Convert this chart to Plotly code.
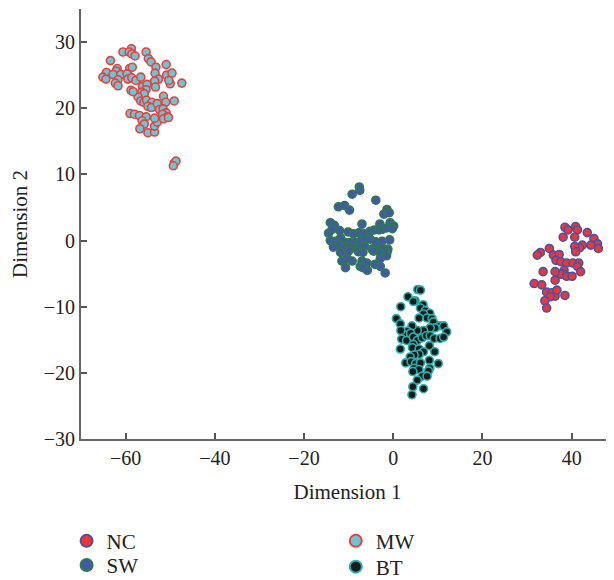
import plotly.graph_objects as go

# ---- data ----
mw_x = [-58.7, -60.6, -59.2, -58.6, -57.9, -55.4, -63.4, -54.9, -54.3, -53.2, -50.9, -59.1, -58.5,
        -61.9, -62.1, -64.3, -65.1, -64.4, -62.8, -61.1, -59.7, -61.7, -62.3, -61.7, -59.5, -58.6,
        -57.7, -56.6, -53.4, -52.6, -53.5, -53.3, -50.8, -49.6, -50.0, -50.3, -47.4, -56.2, -55.2,
        -55.4, -56.4, -55.8, -57.2, -56.6, -55.9, -55.3, -54.1, -55.0, -54.2, -52.9, -51.5, -51.0,
        -49.1, -52.4, -51.6, -50.9, -51.7, -50.7, -58.8, -58.3, -59.0, -58.0, -56.9, -55.4, -56.3,
        -55.8, -56.8, -55.0, -53.5, -53.5, -52.9, -53.5, -51.5, -50.4, -49.1, -48.7, -49.3]
mw_y = [29.0, 28.5, 28.5, 28.2, 27.9, 28.5, 27.2, 27.5, 27.0, 26.2, 26.6, 26.0, 26.2,
        26.0, 25.6, 25.4, 24.7, 24.4, 25.1, 25.1, 25.2, 24.3, 23.8, 23.4, 24.4, 24.6,
        24.2, 24.7, 25.3, 24.4, 24.1, 23.2, 25.0, 25.3, 23.7, 24.2, 23.8, 23.3, 23.6,
        22.8, 22.4, 22.2, 21.7, 21.1, 20.9, 21.2, 20.9, 20.3, 20.1, 20.7, 21.8, 20.9,
        21.1, 19.8, 19.9, 19.3, 19.1, 18.7, 22.7, 22.5, 19.2, 19.1, 18.9, 18.7, 18.1,
        17.6, 16.9, 16.3, 16.4, 17.3, 17.9, 18.5, 18.4, 18.6, 11.7, 12.0, 11.3]

sw_x = [-7.6, -7.5, -9.2, -3.9, -12.3, -10.9, -9.8, -1.4, -2.1, -0.9, -14.1, -13.2, -7.0, -3.0,
        -0.7, 0.1, -14.5, -13.7, -12.0, -10.1, -8.9, -7.6, -6.8, -5.2, -4.2, -3.2, -2.5, -1.5,
        -0.2, -14.1, -13.0, -11.8, -10.7, -9.6, -8.5, -7.4, -6.3, -5.2, -3.9, -2.5, -0.8, -13.4,
        -12.0, -10.9, -9.8, -8.7, -7.8, -6.5, -4.8, -3.6, -2.5, -1.2, -11.8, -10.0, -7.8, -6.8,
        -4.4, -3.0, -1.4, -11.5, -10.3, -9.2, -7.0, -5.9, -2.9, -1.5, -10.7, -7.4, -6.8, -5.8,
        -4.1, -2.9, -1.8]
sw_y = [8.1, 7.6, 7.0, 6.1, 5.1, 5.3, 4.6, 4.7, 4.0, 4.2, 2.7, 2.3, 2.5, 2.5,
        2.7, 2.2, 1.1, 1.7, 1.5, 1.3, 1.0, 1.2, 1.1, 1.4, 1.6, 1.6, 1.7, 1.9,
        1.8, 0.0, -0.1, 0.4, -0.3, -0.3, -0.3, -0.1, 0.2, 0.2, -0.2, -0.1, 0.1, -1.0,
        -0.7, -1.1, -1.0, -1.1, -1.2, -0.8, -1.3, -1.4, -1.1, -1.3, -1.8, -1.6, -1.7, -1.8,
        -1.6, -1.8, -1.8, -3.1, -2.7, -3.1, -3.1, -3.4, -2.7, -2.3, -4.1, -3.9, -4.1, -4.5,
        -3.6, -3.9, -4.9]

bt_x = [5.5, 6.1, 3.3, 4.9, 4.5, 1.7, 6.7, 6.1, 7.2, 8.2, 6.8, 0.7, 1.6, 5.8, 7.6, 8.7, 9.0,
        10.4, 11.3, 12.0, 9.4, 8.3, 6.8, 5.4, 4.2, 3.2, 2.3, 1.7, 3.9, 1.9, 3.0, 4.5, 5.4,
        6.5, 7.4, 8.3, 9.2, 10.5, 11.3, 4.5, 4.3, 1.6, 5.8, 8.1, 9.3, 6.8, 5.8, 4.7, 3.8,
        2.8, 4.0, 5.0, 6.1, 8.1, 10.1, 4.7, 5.8, 8.2, 7.9, 4.4, 6.5, 7.6, 5.4, 4.4, 6.8, 4.2]
bt_y = [-7.4, -7.5, -8.5, -9.1, -9.2, -10.0, -9.7, -10.2, -10.6, -11.0, -11.1, -11.8, -12.6,
        -11.7, -11.7, -11.8, -12.3, -12.9, -12.9, -13.8, -13.2, -13.2, -13.6, -13.6, -12.9,
        -13.7, -14.2, -13.6, -14.0, -14.9, -15.1, -14.6, -15.1, -14.7, -14.4, -14.4, -14.8,
        -14.8, -14.6, -15.7, -16.2, -16.4, -16.4, -15.9, -16.8, -16.8, -17.2, -17.3, -17.6,
        -18.5, -18.3, -18.6, -18.5, -18.1, -18.6, -19.3, -19.5, -19.3, -19.7, -19.8, -20.5,
        -20.5, -21.1, -22.1, -22.4, -23.3]

nc_x = [38.5, 39.2, 40.9, 41.3, 38.1, 40.7, 43.5, 45.0, 45.8, 46.0, 44.3, 42.4, 41.8, 40.7,
        40.9, 35.0, 33.0, 32.3, 35.9, 37.2, 36.5, 37.6, 38.9, 40.3, 41.6, 41.3, 38.3, 38.1,
        37.6, 36.3, 38.9, 40.1, 42.0, 33.6, 36.3, 31.6, 33.3, 34.4, 35.6, 36.3, 35.2, 34.0,
        38.5, 36.7, 34.4]
nc_y = [2.0, 1.6, 2.1, 1.6, 0.5, 0.5, 1.2, 0.3, -0.5, -1.2, -0.7, -0.7, -1.1, -0.9,
        -1.7, -1.2, -1.8, -2.2, -2.2, -2.1, -3.0, -3.2, -3.4, -3.4, -3.4, -3.9, -4.5, -5.0,
        -5.1, -4.7, -5.4, -5.4, -4.7, -4.7, -6.0, -6.5, -6.7, -7.8, -7.9, -8.4, -8.5, -9.1,
        -8.3, -7.5, -10.2]

x_ticks = [-60, -40, -20, 0, 20, 40]
y_ticks = [-30, -20, -10, 0, 10, 20, 30]

FONT = "Liberation Serif"
TXT = "#222222"

fig = go.Figure()

def add(name, xs, ys, fill, edge, legend):
    fig.add_trace(go.Scatter(
        x=xs, y=ys, mode="markers", name=name, legend=legend,
        marker=dict(size=8, color=fill, line=dict(color=edge, width=1.6)),
    ))

add("NC", nc_x, nc_y, "#e8363c", "#4a52a3", "legend")
add("SW", sw_x, sw_y, "#4558a8", "#2c7c4a", "legend2")
add("MW", mw_x, mw_y, "#6cc6d2", "#e8403f", "legend3")
add("BT", bt_x, bt_y, "#1a1a1a", "#26b0ad", "legend4")

axis_common = dict(
    showgrid=False, zeroline=False, showline=True, linecolor="#666666", linewidth=2,
    ticks="inside", ticklen=6, tickwidth=1.5, tickcolor="#555555",
    tickfont=dict(family=FONT, size=20, color=TXT), automargin=False,
)

fig.update_xaxes(range=[-70, 49.5], tickvals=x_ticks,
                 ticktext=[str(v).replace("-", "\u2212") for v in x_ticks],
                 title=dict(text="Dimension 1", font=dict(family=FONT, size=21, color=TXT),
                            standoff=16),
                 **axis_common)
fig.update_yaxes(range=[-30, 35], tickvals=y_ticks,
                 ticktext=[str(v).replace("-", "\u2212") for v in y_ticks],
                 title=dict(text="Dimension 2", font=dict(family=FONT, size=21, color=TXT),
                            standoff=15),
                 **axis_common)

legend_style = dict(font=dict(family=FONT, size=21, color=TXT), orientation="v",
                    xanchor="left", yanchor="top", bgcolor="rgba(0,0,0,0)",
                    itemsizing="constant")

# the page body has an 8px margin, so the figure is drawn 8px smaller and offset
fig.update_layout(
    width=606, height=572,
    margin=dict(l=73, r=0, t=1, b=141, pad=0, autoexpand=False),
    plot_bgcolor="white", paper_bgcolor="white",
    showlegend=True,
    legend=dict(x=-0.027, y=-0.190, **legend_style),
    legend2=dict(x=-0.027, y=-0.246, **legend_style),
    legend3=dict(x=0.478, y=-0.190, **legend_style),
    legend4=dict(x=0.478, y=-0.250, **legend_style),
)

fig.write_html("out.html")
